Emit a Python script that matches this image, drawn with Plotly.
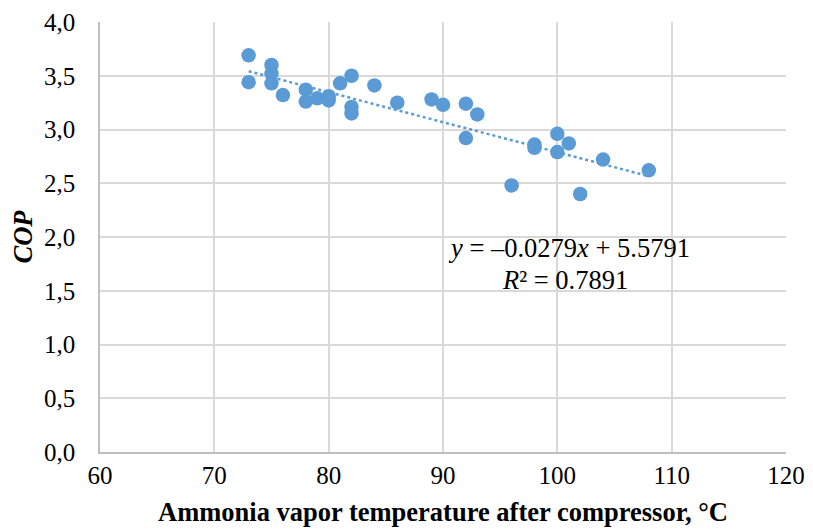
import numpy as np
import plotly.graph_objects as go

# Data
temp_c = [73, 73, 75, 75, 75, 76, 78, 78, 79, 80, 80, 81, 82, 82, 82, 84, 86, 89, 90, 92, 92, 93,
          96, 98, 98, 100, 100, 101, 102, 104, 108]
cop = [3.69, 3.44, 3.60, 3.52, 3.43, 3.32, 3.37, 3.26, 3.29, 3.31, 3.27, 3.43, 3.50, 3.21, 3.15,
       3.41, 3.25, 3.28, 3.23, 3.24, 2.92, 3.14, 2.48, 2.86, 2.83, 2.96, 2.79, 2.87, 2.40, 2.72, 2.62]

slope = -0.0279
intercept = 5.5791
r_squared = 0.7891

x_ticks = [60, 70, 80, 90, 100, 110, 120]
y_ticks = [0.0, 0.5, 1.0, 1.5, 2.0, 2.5, 3.0, 3.5, 4.0]

blue = "#5B9BD5"
font_family = "Liberation Serif, Times New Roman, serif"

trend_x = np.array([min(temp_c), max(temp_c)])
trend_y = slope * trend_x + intercept

fig = go.Figure()
fig.add_trace(go.Scatter(
    x=trend_x, y=trend_y, mode="lines",
    line=dict(color=blue, width=2.5, dash="dot"),
    showlegend=False, hoverinfo="skip"))
fig.add_trace(go.Scatter(
    x=temp_c, y=cop, mode="markers",
    marker=dict(color=blue, size=14.5, line=dict(width=0)),
    showlegend=False))

fig.add_annotation(
    x=101.03, y=1.90, xref="x", yref="y",
    text="<i>y</i> = –0.0279<i>x</i> + 5.5791", showarrow=False,
    font=dict(family=font_family, size=26.5, color="black"))
fig.add_annotation(
    x=100.68, y=1.60, xref="x", yref="y",
    text="<i>R</i>² = " + f"{r_squared:.4f}", showarrow=False,
    font=dict(family=font_family, size=26.5, color="black"))

fig.update_layout(
    width=813, height=529,
    margin=dict(l=100, r=27, t=22, b=77),
    paper_bgcolor="white", plot_bgcolor="white",
    separators=", ",
    font=dict(family=font_family, size=25, color="black"),
    xaxis=dict(
        range=[60, 120], tickvals=x_ticks, ticktext=[str(v) for v in x_ticks],
        showgrid=True, gridcolor="#D9D9D9", gridwidth=1.5,
        showline=True, linecolor="#BFBFBF", linewidth=1.5,
        zeroline=False, ticks="", ticklen=0, automargin=False,
        tickfont=dict(family=font_family, size=25),
        title=dict(text="<b>Ammonia vapor temperature after compressor, °C</b>",
                   font=dict(family=font_family, size=26.5)),
    ),
    yaxis=dict(
        range=[0, 4], tickvals=y_ticks, tickformat=".1f",
        showgrid=True, gridcolor="#D9D9D9", gridwidth=1.5,
        showline=True, linecolor="#BFBFBF", linewidth=1.5,
        zeroline=False, ticks="", ticklen=0, automargin=False,
        ticklabelstandoff=18,
        tickfont=dict(family=font_family, size=25),
        title=dict(text="<b><i>COP</i></b>", standoff=4,
                   font=dict(family=font_family, size=26.5)),
    ),
)

fig.write_html("out.html", config={"displayModeBar": False},
               post_script="document.body.style.margin='0';")
